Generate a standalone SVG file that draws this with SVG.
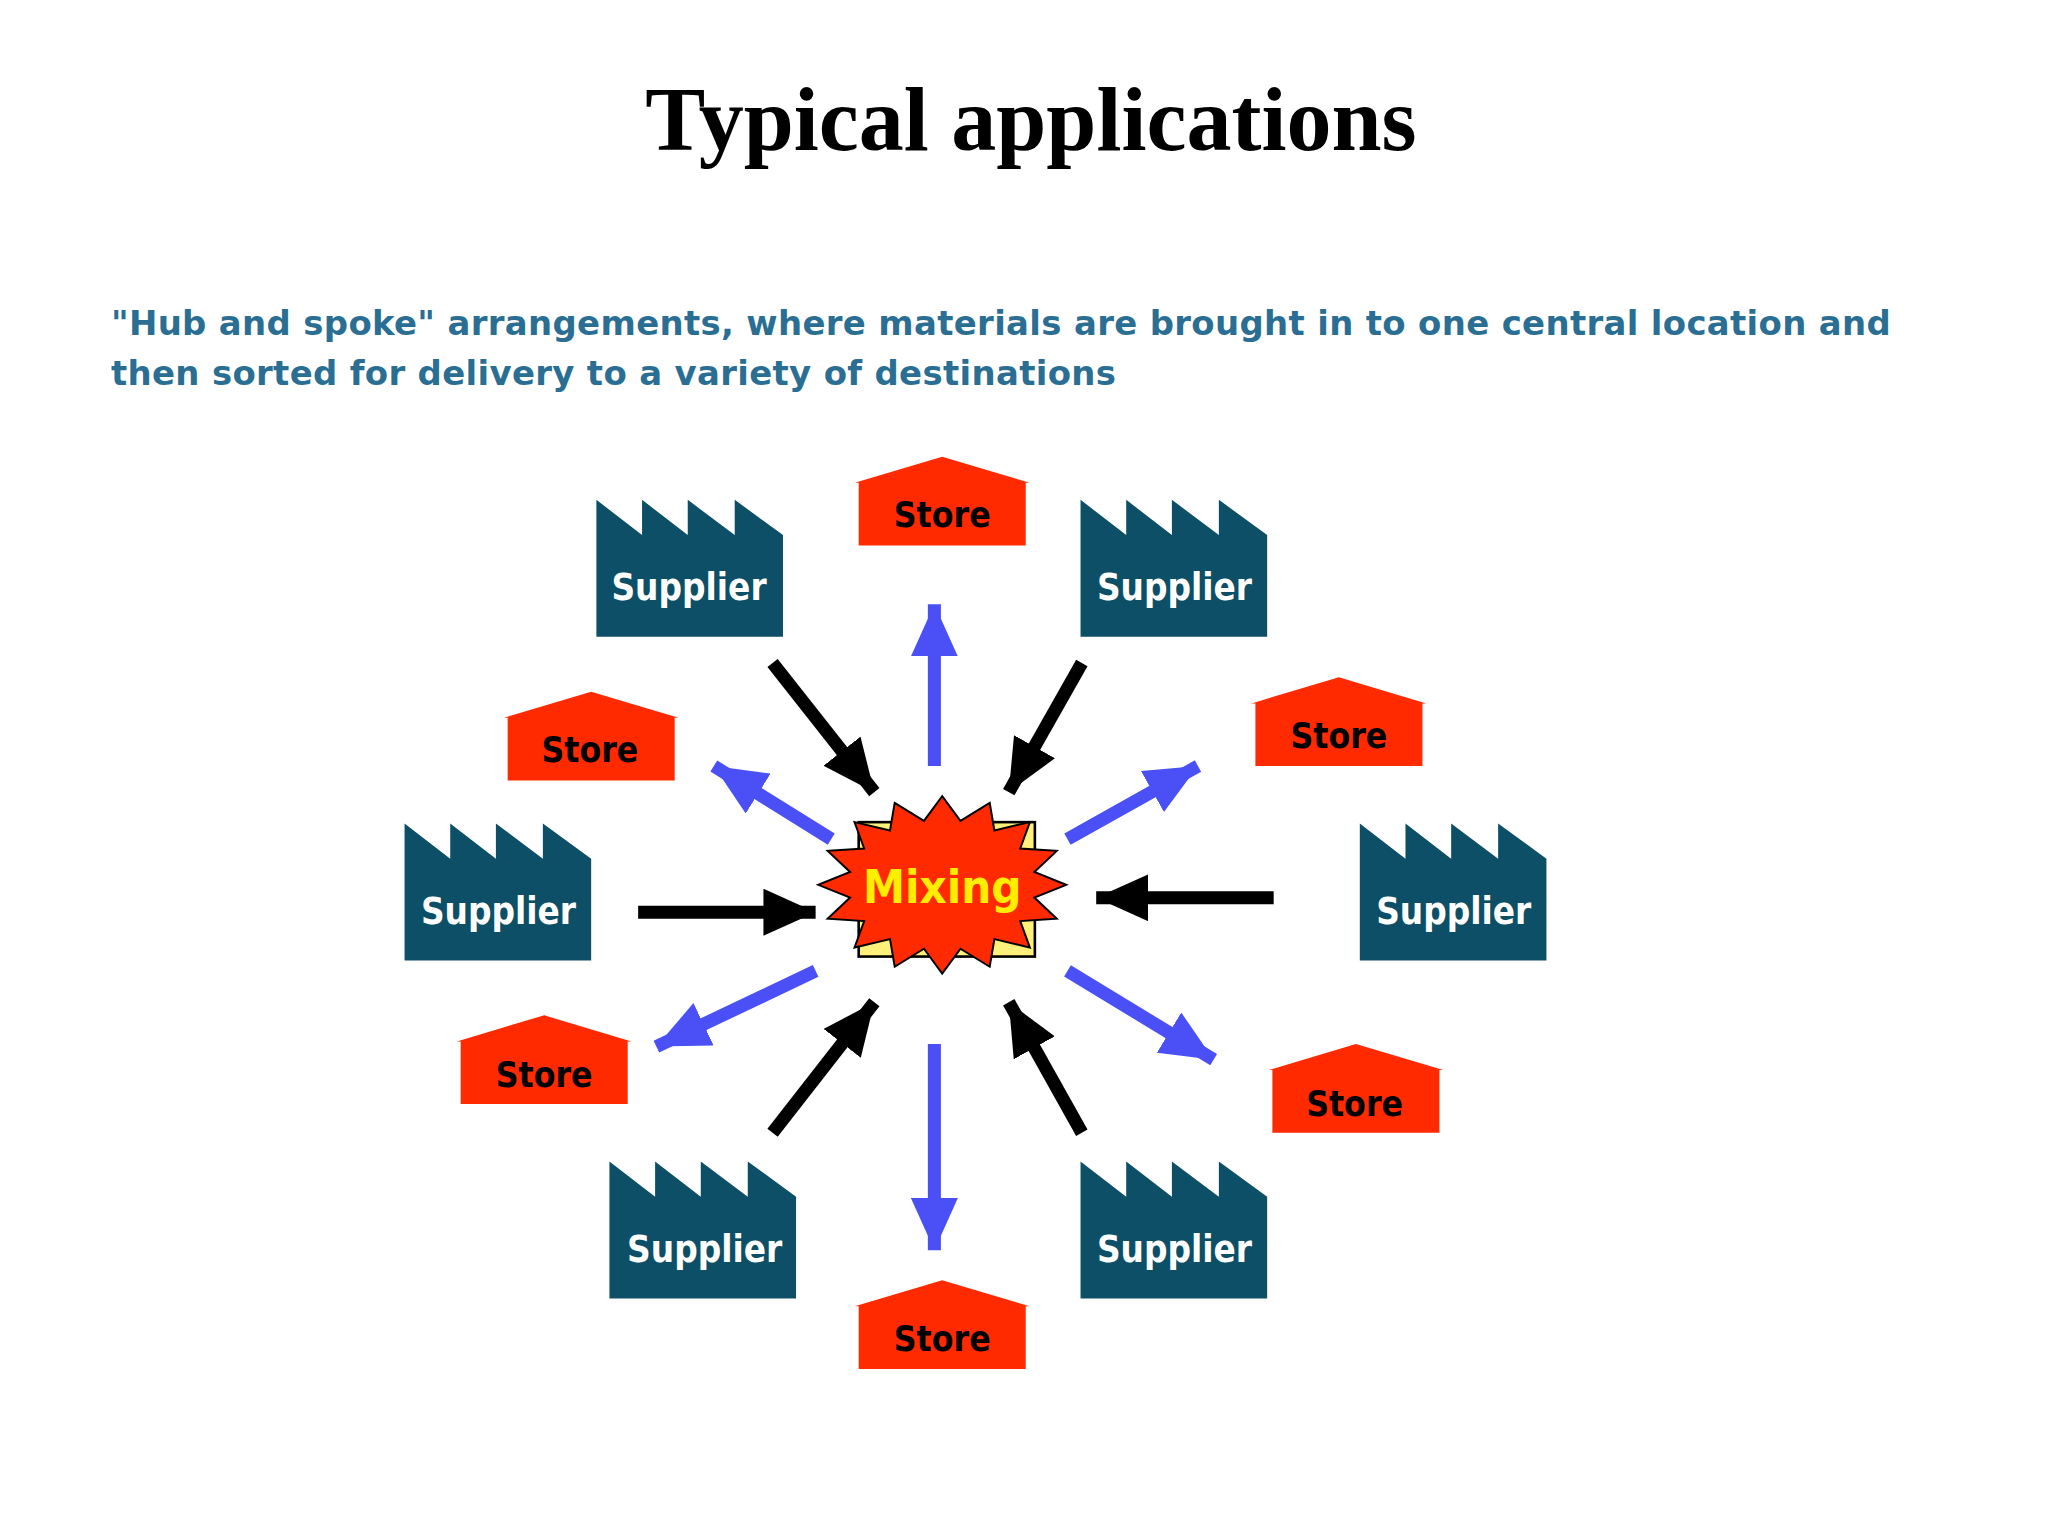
<svg xmlns="http://www.w3.org/2000/svg" width="2048" height="1536" viewBox="0 0 2048 1536">
<defs>
<style>
.sup{fill:#0c4f66}
.sl{font-family:"DejaVu Sans Condensed","DejaVu Sans",sans-serif;font-weight:bold;font-size:28px;fill:#fff;text-anchor:middle}
.st{fill:#ff2a00}
.stl{font-family:"DejaVu Sans Condensed","DejaVu Sans",sans-serif;font-weight:bold;font-size:27px;fill:#000;text-anchor:middle}
.blk{stroke:#000;stroke-width:10;fill:none}
.blu{stroke:#4a50f5;stroke-width:10;fill:none}
</style>
<marker id="hb" markerUnits="userSpaceOnUse" viewBox="0 0 40 36" refX="40" refY="18" markerWidth="40" markerHeight="36" orient="auto"><path d="M0,0L40,18L0,36Z" fill="#000"/></marker>
<marker id="hu" markerUnits="userSpaceOnUse" viewBox="0 0 40 36" refX="40" refY="18" markerWidth="40" markerHeight="36" orient="auto"><path d="M0,0L40,18L0,36Z" fill="#4a50f5"/></marker>
<g id="supplier"><path class="sup" d="M0,0L35,27V0L70,27V0L106,27V0L143,27V105H0Z"/></g>
<g id="store"><path class="st" d="M-2,20L65,0L132,20H129V68H1V20Z"/></g>
</defs>
<rect width="2048" height="1536" fill="#fff"/>
<g transform="scale(1.305)">
<text x="790" y="115" font-family="Liberation Serif,serif" font-weight="bold" font-size="69" text-anchor="middle">Typical applications</text>
<text font-family="DejaVu Sans,Verdana,sans-serif" font-weight="bold" font-size="26" letter-spacing="0.25" fill="#2a6f93"><tspan x="85" y="257">"Hub and spoke" arrangements, where materials are brought in to one central location and</tspan><tspan x="85" y="295">then sorted for delivery to a variety of destinations</tspan></text>
<g id="connectors">
<line class="blk" x1="592" y1="508" x2="670" y2="607" marker-end="url(#hb)"/>
<line class="blk" x1="829" y1="508" x2="773" y2="607" marker-end="url(#hb)"/>
<line class="blk" x1="489" y1="699" x2="625" y2="699" marker-end="url(#hb)"/>
<line class="blk" x1="976" y1="688" x2="840" y2="688" marker-end="url(#hb)"/>
<line class="blk" x1="592" y1="868" x2="670" y2="768" marker-end="url(#hb)"/>
<line class="blk" x1="829" y1="868" x2="773" y2="768" marker-end="url(#hb)"/>
<line class="blu" x1="716" y1="587" x2="716" y2="463" marker-end="url(#hu)"/>
<line class="blu" x1="637" y1="643" x2="547" y2="587" marker-end="url(#hu)"/>
<line class="blu" x1="818" y1="643" x2="918" y2="587" marker-end="url(#hu)"/>
<line class="blu" x1="625" y1="744" x2="503" y2="802" marker-end="url(#hu)"/>
<line class="blu" x1="818" y1="744" x2="930" y2="812" marker-end="url(#hu)"/>
<line class="blu" x1="716" y1="800" x2="716" y2="958" marker-end="url(#hu)"/>
</g>
<g id="sup1"><use href="#supplier" x="457" y="383"/><text class="sl" x="528" y="460">Supplier</text></g>
<g id="sup2"><use href="#supplier" x="828" y="383"/><text class="sl" x="900" y="460">Supplier</text></g>
<g id="sup3"><use href="#supplier" x="310" y="631"/><text class="sl" x="382" y="708">Supplier</text></g>
<g id="sup4"><use href="#supplier" x="1042" y="631"/><text class="sl" x="1114" y="708">Supplier</text></g>
<g id="sup5"><use href="#supplier" x="467" y="890"/><text class="sl" x="540" y="967">Supplier</text></g>
<g id="sup6"><use href="#supplier" x="828" y="890"/><text class="sl" x="900" y="967">Supplier</text></g>
<g id="store1"><use href="#store" x="657" y="350"/><text class="stl" x="722" y="404">Store</text></g>
<g id="store2"><use href="#store" x="388" y="530"/><text class="stl" x="452" y="584">Store</text></g>
<g id="store3"><use href="#store" x="961" y="519"/><text class="stl" x="1026" y="573">Store</text></g>
<g id="store4"><use href="#store" x="352" y="778"/><text class="stl" x="417" y="833">Store</text></g>
<g id="store5"><use href="#store" x="974" y="800"/><text class="stl" x="1038" y="855">Store</text></g>
<g id="store6"><use href="#store" x="657" y="981"/><text class="stl" x="722" y="1035">Store</text></g>
<g id="mixing">
<rect x="658" y="630" width="135" height="103" fill="#fff07a" stroke="#000" stroke-width="2"/>
<polygon fill="#ff2a00" stroke="#000" stroke-width="1.5" points="817,678 792.6,687.8 809.8,704 781.8,705.8 789.2,726.1 762,719.6 758.4,740.8 736,727 722,746 708,727 685.6,740.8 682,719.6 654.8,726.1 662.2,705.8 634.2,704 651.4,687.8 627,678 651.4,668.2 634.2,652 662.2,650.2 654.8,629.9 682,636.4 685.6,615.2 708,629 722,610 736,629 758.4,615.2 762,636.4 789.2,629.9 781.8,650.2 809.8,652 792.6,668.2"/>
<text x="722" y="692" font-family="DejaVu Sans Condensed,DejaVu Sans,sans-serif" font-weight="bold" font-size="36" fill="#ffee00" text-anchor="middle">Mixing</text>
</g>
</g>
</svg>
